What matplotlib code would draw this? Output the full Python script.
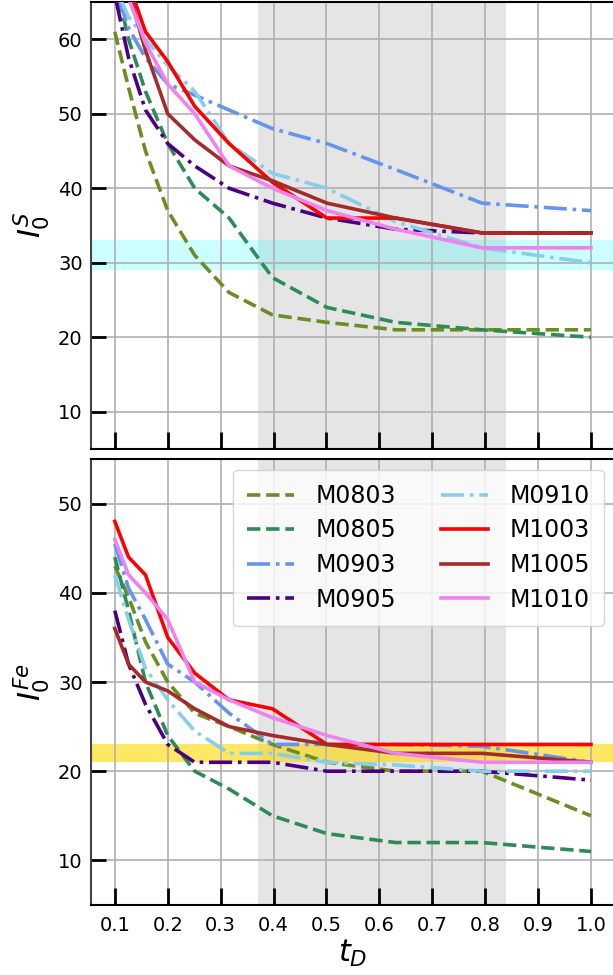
import matplotlib
matplotlib.use("Agg")
import matplotlib.pyplot as plt

# x-values (t_D)
t_D = [0.1, 0.126, 0.158, 0.2, 0.251, 0.316, 0.398, 0.501, 0.631, 0.794, 1.0]
x_ticks = [0.1, 0.2, 0.3, 0.4, 0.5, 0.6, 0.7, 0.8, 0.9, 1.0]

models = ["M0803", "M0805", "M0903", "M0905", "M0910", "M1003", "M1005", "M1010"]
colors = ["olivedrab", "seagreen", "cornflowerblue", "indigo", "skyblue", "red", "brown", "violet"]
styles = ["--", "--", "-.", "-.", "-.", "-", "-", "-"]

# Top panel: I_0^S
I_S = {
    "M0803": [61, 53.5, 45, 37, 31, 26, 23, 22, 21, 21, 21],
    "M0805": [68, 60, 53, 46, 40, 36, 28, 24, 22, 21, 20],
    "M0903": [67, 61.5, 57.5, 54, 52.5, 50.5, 48, 46, 42.5, 38, 37],
    "M0905": [66, 57.5, 50.5, 46, 43, 40, 38, 36, 34.5, 34, 34],
    "M0910": [67, 63, 60, 56.5, 53, 46, 42, 40, 35.5, 32, 30],
    "M1003": [72, 67.5, 61, 57, 51, 46, 40.8, 36, 36, 34, 34],
    "M1005": [72, 66.5, 58.5, 50, 46.5, 43, 41, 38, 36, 34, 34],
    "M1010": [70, 65.5, 59.5, 54, 50, 43, 40, 37, 34.5, 32, 32],
}

# Bottom panel: I_0^Fe
I_Fe = {
    "M0803": [43, 39.5, 34.5, 30, 26.5, 25, 23, 21, 20, 20, 15],
    "M0805": [44, 38, 30, 24, 20, 18, 15, 13, 12, 12, 11],
    "M0903": [45.5, 40.5, 37, 32, 30, 26.5, 23, 23, 23, 22.8, 21],
    "M0905": [38, 32, 27.5, 23, 21, 21, 21, 20, 20, 20, 19],
    "M0910": [42, 37, 31.5, 28, 24.5, 22, 22, 21, 20.7, 20, 20],
    "M1003": [48, 44, 42, 35, 31, 28, 27, 23, 23, 23, 23],
    "M1005": [36, 32, 30, 29, 27, 25, 24, 23, 22, 22, 21],
    "M1010": [46, 42, 40, 37, 30, 28, 26, 24, 22, 21, 21],
}

span_t = (0.37, 0.84)
band_S = (29, 33)
band_Fe = (21, 23)

W, H = 613, 975
fig = plt.figure(figsize=(W / 100, H / 100), dpi=100)
left = 91 / W
width = (614.8 - 91) / W
ax1 = fig.add_axes([left, (H - 449) / H, width, 447 / H])
ax2 = fig.add_axes([left, (H - 905) / H, width, 446 / H])

for ax, data, band, bcol, balpha, ylim, yticks in [
    (ax1, I_S, band_S, "cyan", 0.2, (5, 65), [10, 20, 30, 40, 50, 60]),
    (ax2, I_Fe, band_Fe, "gold", 0.6, (5, 55), [10, 20, 30, 40, 50]),
]:
    ax.axvspan(*span_t, color="grey", alpha=0.2, lw=0, zorder=0)
    ax.axhspan(*band, color=bcol, alpha=balpha, lw=0, zorder=0.5)
    for m, c, ls in zip(models, colors, styles):
        ax.plot(t_D, data[m], ls, color=c, lw=2.6, label=m, zorder=3)
    ax.set_xlim(0.055, 1.045)
    ax.set_ylim(*ylim)
    ax.set_xticks(x_ticks)
    ax.set_yticks(yticks)
    ax.grid(True, color="#b0b0b0", lw=1.2, zorder=1)
    ax.set_axisbelow(True)
    ax.tick_params(axis="x", direction="in", length=12, width=2, pad=8, labelsize=14)
    ax.tick_params(axis="y", direction="in", length=11, width=2, pad=6, labelsize=14)
    for s in ax.spines.values():
        s.set_linewidth(1.5)
    ax.spines["left"].set_color("#444444")

ax1.tick_params(axis="x", labelbottom=False)
ax2.set_xticklabels([f"{v:.1f}" for v in x_ticks])
ax1.set_ylabel(r"$I_0^S$", fontsize=22, labelpad=4)
ax2.set_ylabel(r"$I_0^{Fe}$", fontsize=22, labelpad=4)
ax2.set_xlabel(r"$t_D$", fontsize=22, labelpad=2)

ax2.legend(ncol=2, loc="upper right", fontsize=17, borderaxespad=0.45,
           columnspacing=1.9, handlelength=2.0, handletextpad=0.9,
           labelspacing=0.45, borderpad=0.6)

fig.savefig("out.png", dpi=100)
